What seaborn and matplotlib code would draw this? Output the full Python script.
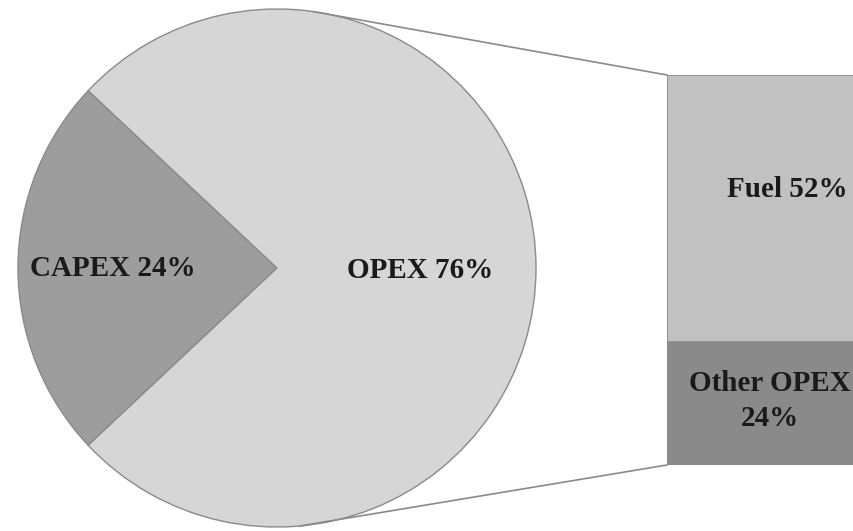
import numpy as np
import matplotlib
matplotlib.use("Agg")
import matplotlib.pyplot as plt
import seaborn as sns
import pandas as pd

# Cost split: whole-life cost and breakdown of operating cost
pie_labels = ["CAPEX", "OPEX"]
pie_values = [24, 76]
bar_labels = ["Other OPEX", "Fuel"]
bar_values = [24, 52]

pie_colors = ["#9d9d9d", "#d6d6d6"]
bar_colors = ["#8a8a8a", "#c1c1c1"]
edge = "#8a8a8a"

sns.set_theme(style="white")
plt.rcParams["font.family"] = ["Liberation Serif", "DejaVu Serif"]

W, H = 854, 531
fig = plt.figure(figsize=(W / 100, H / 100), dpi=100)
ax = fig.add_axes([0, 0, 1, 1])

# Pie in pixel-like coordinates
cx, cy, r = 277, H - 268, 259
start = 180 - pie_values[0] / sum(pie_values) * 360 / 2
ax.pie(pie_values, colors=pie_colors, startangle=start, counterclock=True,
       center=(cx, cy), radius=r,
       wedgeprops=dict(edgecolor=edge, linewidth=1.0))
ax.set_xlim(0, W)
ax.set_ylim(0, H)
ax.set_aspect("auto")
ax.axis("off")

txt = dict(fontweight="bold", color="#1a1a1a", ha="center", va="center", fontsize=21)
ax.text(113, H - 268, f"{pie_labels[0]} {pie_values[0]}%", **txt)
ax.text(420, H - 271, f"{pie_labels[1]} {pie_values[1]}%", **txt)

# Stacked bar for OPEX breakdown
bx0, bx1, by_top, by_bot = 667, 907, 75, 465
bax = fig.add_axes([bx0 / W, (H - by_bot) / H, (bx1 - bx0) / W, (by_bot - by_top) / H])
df_total = pd.DataFrame({"cat": ["OPEX"], "val": [sum(bar_values)]})
df_other = pd.DataFrame({"cat": ["OPEX"], "val": [bar_values[0]]})
sns.barplot(data=df_total, x="cat", y="val", color=bar_colors[1], width=1.0,
            saturation=1, edgecolor=edge, linewidth=1.2, ax=bax)
sns.barplot(data=df_other, x="cat", y="val", color=bar_colors[0], width=1.0,
            saturation=1, edgecolor=edge, linewidth=1.2, ax=bax)
bax.set_xlim(-0.5, 0.5)
bax.set_ylim(0, sum(bar_values))
bax.axis("off")

bax.text(0.0, bar_values[0] + bar_values[1] * 0.57, f"{bar_labels[1]} {bar_values[1]}%", **txt)
bax.text(-0.07, bar_values[0] / 2 + 0.5, f"{bar_labels[0]}\n{bar_values[0]}%",
         linespacing=1.4, **txt)

# Connector lines from pie to bar
a_top, a_bot = np.deg2rad(82), np.deg2rad(-85)
ax.plot([cx + r * np.cos(a_top), bx0], [cy + r * np.sin(a_top), H - by_top],
        color=edge, lw=1.2)
ax.plot([cx + r * np.cos(a_bot), bx0], [cy + r * np.sin(a_bot), H - by_bot],
        color=edge, lw=1.2)

fig.savefig("out.png", dpi=100, facecolor="white")
